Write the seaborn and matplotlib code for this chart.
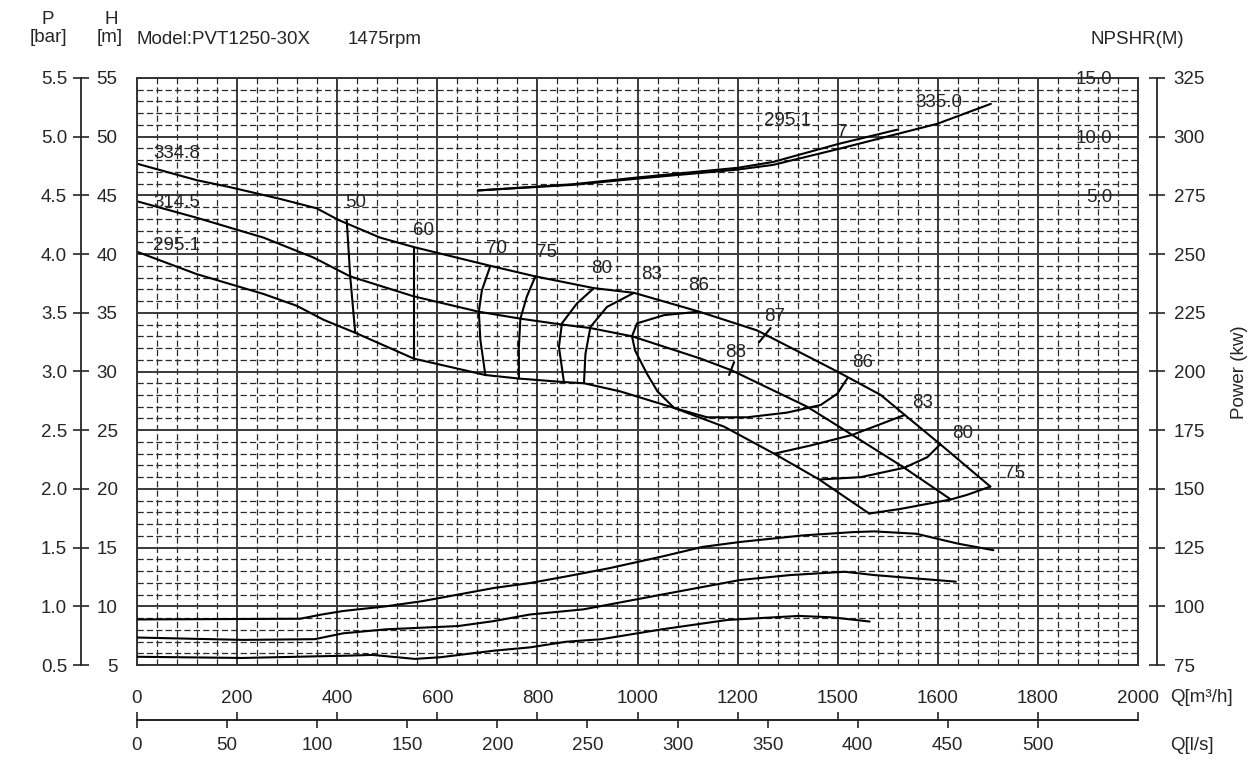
"""
Pump performance chart PVT1250-30X, 1475 rpm:
head, iso-efficiency, NPSHR and power curves on one shared grid.
"""

import matplotlib
matplotlib.use("Agg")
import matplotlib.pyplot as plt
from matplotlib.ticker import FixedLocator, MultipleLocator
import seaborn as sns


# Head curves  Q [m3/h] -> H [m]
head_labels = ["334.8", "314.5", "295.1"]
q_head_1 = [0, 119, 186, 286, 359, 403, 486, 553, 706, 796, 913, 993, 1123, 1239, 1399, 1486, 1534, 1605, 1705]
h_head_1 = [47.7, 46.3, 45.7, 44.7, 43.9, 42.9, 41.4, 40.6, 39.0, 38.1, 37.1, 36.7, 35.1, 33.5, 30.0, 28.0, 26.3, 23.8, 20.2]
q_head_2 = [0, 119, 253, 353, 426, 553, 682, 766, 849, 906, 989, 1126, 1188, 1339, 1429, 1533, 1626]
h_head_2 = [44.5, 43.1, 41.4, 39.7, 38.1, 36.4, 35.1, 34.5, 34.0, 33.7, 33.0, 31.1, 30.1, 27.0, 24.6, 21.8, 19.1]
q_head_3 = [0, 119, 253, 319, 373, 436, 553, 696, 763, 853, 893, 966, 1073, 1173, 1273, 1363, 1463]
h_head_3 = [40.2, 38.3, 36.6, 35.6, 34.4, 33.3, 31.1, 29.7, 29.4, 29.1, 29.0, 28.3, 26.9, 25.3, 23.0, 20.8, 17.9]

# Iso-efficiency lines  (Q, H)
iso_q = {
    "50": [419, 426, 436],
    "60": [553, 553, 553],
    "70": [706, 689, 683, 686, 696],
    "75": [796, 779, 766, 763, 763],
    "80": [913, 879, 849, 843, 853],
    "83": [993, 939, 906, 896, 893],
    "86": [1123, 1053, 999, 989, 995, 1019, 1040, 1073, 1139, 1219, 1299, 1366, 1399, 1419],
    "87": [1243, 1266],
    "88": [1183, 1193],
    "83r": [1534, 1429, 1346, 1273],
    "80r": [1605, 1579, 1533, 1446, 1363],
    "75r": [1705, 1659, 1626, 1526, 1463],
}
iso_h = {
    "50": [42.9, 38.1, 33.3],
    "60": [40.5, 36.4, 31.1],
    "70": [39.0, 36.9, 35.1, 32.7, 29.7],
    "75": [38.1, 36.4, 34.5, 32.1, 29.4],
    "80": [37.1, 35.8, 34.1, 32.1, 29.1],
    "83": [36.7, 35.5, 33.8, 31.5, 29.0],
    "86": [35.1, 34.8, 34.1, 33.0, 31.8, 29.8, 28.3, 26.9, 26.1, 26.1, 26.5, 27.15, 28.1, 29.4],
    "87": [32.5, 33.7],
    "88": [29.7, 30.8],
    "83r": [26.3, 24.6, 23.7, 23.0],
    "80r": [23.8, 22.7, 21.8, 21.0, 20.8],
    "75r": [20.2, 19.5, 19.1, 18.3, 17.9],
}
# efficiency label text and where it sits (Q, H)
eff_text = ["50", "60", "70", "75", "80", "83", "86", "87", "88", "86", "83", "80", "75"]
eff_q = [436, 573, 719, 819, 929, 1029, 1123, 1273, 1196, 1449, 1569, 1649, 1753]
eff_h = [44.4, 42.0, 40.5, 40.1, 38.8, 38.3, 37.3, 34.7, 31.6, 30.8, 27.4, 24.7, 21.3]

# NPSHR curves  Q -> NPSHR [m]
q_npsh_295 = [681, 871, 1005, 1200, 1271, 1401, 1519]
n_npsh_295 = [5.42, 5.95, 6.55, 7.35, 7.85, 9.38, 10.6]
q_npsh_335 = [681, 871, 1005, 1200, 1271, 1401, 1599, 1706]
n_npsh_335 = [5.42, 5.9, 6.45, 7.2, 7.6, 8.95, 11.1, 12.8]
npsh_text = ["295.1", "7", "335.0"]
npsh_text_q = [1300, 1410, 1602]
npsh_text_n = [11.4, 10.4, 12.9]

# Power curves  Q -> P [kW]
q_pow_1 = [0, 326, 369, 412, 498, 570, 642, 713, 785, 857, 943, 1049, 1130, 1205, 1331, 1431, 1473, 1557, 1640, 1711]
p_pow_1 = [94.4, 94.7, 96.5, 98.0, 100.0, 102.2, 105.0, 107.8, 109.9, 112.7, 116.2, 121.2, 125.3, 127.4, 130.2, 131.6, 131.9, 130.9, 126.7, 123.9]
q_pow_2 = [0, 211, 355, 412, 498, 642, 713, 785, 892, 1049, 1205, 1305, 1414, 1473, 1636]
p_pow_2 = [86.7, 85.7, 86.0, 88.5, 90.2, 91.6, 93.7, 96.5, 98.7, 105.0, 111.2, 113.3, 114.7, 113.3, 110.5]
q_pow_3 = [0, 211, 426, 470, 555, 606, 713, 785, 857, 928, 1049, 1180, 1322, 1389, 1464]
p_pow_3 = [78.5, 78.0, 79.0, 79.3, 77.6, 78.3, 81.1, 82.5, 84.9, 86.0, 90.2, 94.2, 95.9, 95.3, 93.5]

# Axis ticks
q_ticks = [0, 200, 400, 600, 800, 1000, 1200, 1400, 1600, 1800, 2000]
q_tick_labels = ["0", "200", "400", "600", "800", "1000", "1200", "1500", "1600", "1800", "2000"]
ls_ticks = [0, 50, 100, 150, 200, 250, 300, 350, 400, 450, 500]
p_ticks = [0.5, 1.0, 1.5, 2.0, 2.5, 3.0, 3.5, 4.0, 4.5, 5.0, 5.5]
kw_ticks = [75, 100, 125, 150, 175, 200, 225, 250, 275, 300, 325]
npsh_ticks = [5, 10, 15]


sns.set_style("white")
plt.rcParams["font.family"] = ["Liberation Sans", "DejaVu Sans"]
plt.rcParams["font.size"] = 13.5

W, H = 1254, 764
fig = plt.figure(figsize=(W / 100, H / 100), dpi=100)
# plot frame in pixels: x 137..1138, y 78..665
ax = fig.add_axes([137 / W, 1 - 665 / H, 1001 / W, 587 / H])
ax.set_xlim(0, 2000)
ax.set_ylim(5, 55)

# grid: solid majors, dashed minors
ax.xaxis.set_major_locator(FixedLocator(q_ticks))
ax.xaxis.set_minor_locator(MultipleLocator(40))
ax.yaxis.set_major_locator(MultipleLocator(5))
ax.yaxis.set_minor_locator(MultipleLocator(1))
ax.grid(which="major", color="#3a3a3a", lw=1.4, ls="-")
ax.grid(which="minor", color="#2a2a2a", lw=0.9, ls=(0, (5, 2.5)))
ax.set_axisbelow(True)
for s in ax.spines.values():
    s.set_color("#333333")
    s.set_linewidth(1.4)

ax.set_xticklabels(q_tick_labels)
ax.tick_params(axis="x", which="both", length=0, pad=18)
ax.tick_params(axis="y", which="both", length=0, pad=14)

line_kw = dict(color="black", lw=1.5, sort=False, estimator=None)

# head curves
for q, h in [(q_head_1, h_head_1), (q_head_2, h_head_2), (q_head_3, h_head_3)]:
    sns.lineplot(x=q, y=h, ax=ax, **line_kw)
for lab, h0 in zip(head_labels, [48.6, 44.4, 40.7]):
    ax.text(32, h0, lab, ha="left", va="center")

# iso-efficiency
for key in iso_q:
    sns.lineplot(x=iso_q[key], y=iso_h[key], ax=ax, **line_kw)
for t, q, h in zip(eff_text, eff_q, eff_h):
    ax.text(q, h, t, ha="center", va="center")

# pressure axis (bar) on the far left
ax_p = ax.twinx()
ax_p.set_ylim(0.5, 5.5)
ax_p.yaxis.set_ticks_position("left")
ax_p.spines["left"].set_position(("axes", -56 / 1001))
for side in ["right", "top", "bottom"]:
    ax_p.spines[side].set_visible(False)
ax_p.spines["left"].set_linewidth(1.3)
ax_p.set_yticks(p_ticks)
ax_p.set_yticklabels([f"{v:.1f}" for v in p_ticks])
ax_p.tick_params(axis="y", direction="inout", length=12, width=1.2, pad=4)

# NPSHR axis, labels inside the frame
ax_n = ax.twinx()
ax_n.set_ylim(-35, 15)
for s in ax_n.spines.values():
    s.set_visible(False)
ax_n.set_yticks(npsh_ticks)
ax_n.set_yticklabels(["5.0", "10.0", "15.0"])
ax_n.tick_params(axis="y", length=0, pad=-18.5)
for lab in ax_n.get_yticklabels():
    lab.set_horizontalalignment("right")
for q, n in [(q_npsh_295, n_npsh_295), (q_npsh_335, n_npsh_335)]:
    sns.lineplot(x=q, y=n, ax=ax_n, **line_kw)
for t, q, n in zip(npsh_text, npsh_text_q, npsh_text_n):
    ax_n.text(q, n, t, ha="center", va="center")

# power axis on the right
ax_w = ax.twinx()
ax_w.set_ylim(75, 325)
ax_w.spines["right"].set_position(("axes", 1 + 19 / 1001))
for side in ["left", "top", "bottom"]:
    ax_w.spines[side].set_visible(False)
ax_w.spines["right"].set_linewidth(1.3)
ax_w.set_yticks(kw_ticks)
ax_w.tick_params(axis="y", direction="inout", length=12, width=1.2, pad=6)
for q, p in [(q_pow_1, p_pow_1), (q_pow_2, p_pow_2), (q_pow_3, p_pow_3)]:
    sns.lineplot(x=q, y=p, ax=ax_w, **line_kw)

# flow scale line: m3/h ticks up, l/s ticks down
loc = -(720 - 665) / 587
sec_q = ax.secondary_xaxis(loc)
sec_q.set_xticks(q_ticks)
sec_q.tick_params(axis="x", direction="in", length=5.5, width=1.2, labelbottom=False)
sec_q.spines["bottom"].set_linewidth(1.3)
sec_l = ax.secondary_xaxis(loc, functions=(lambda q: q / 3.6, lambda l: l * 3.6))
sec_l.set_xticks(ls_ticks)
sec_l.tick_params(axis="x", direction="out", length=5.5, width=1.2, pad=7)
sec_l.spines["bottom"].set_linewidth(1.3)

# header texts
fig.text(48 / W, 1 - 19 / H, "P", ha="center", va="center")
fig.text(48 / W, 1 - 37 / H, "[bar]", ha="center", va="center")
fig.text(111 / W, 1 - 19 / H, "H", ha="center", va="center")
fig.text(110 / W, 1 - 37 / H, "[m]", ha="center", va="center")
fig.text(137 / W, 1 - 39 / H, "Model:PVT1250-30X", ha="left", va="center")
fig.text(348 / W, 1 - 39 / H, "1475rpm", ha="left", va="center")
fig.text(1090 / W, 1 - 40 / H, "NPSHR(M)", ha="left", va="center")
fig.text(1170 / W, 1 - 698 / H, "Q[m³/h]", ha="left", va="center")
fig.text(1170 / W, 1 - 745 / H, "Q[l/s]", ha="left", va="center")
fig.text(1240 / W, 1 - 372 / H, "Power (kw)", rotation=90, ha="center", va="center")

fig.savefig("out.png", dpi=100)
